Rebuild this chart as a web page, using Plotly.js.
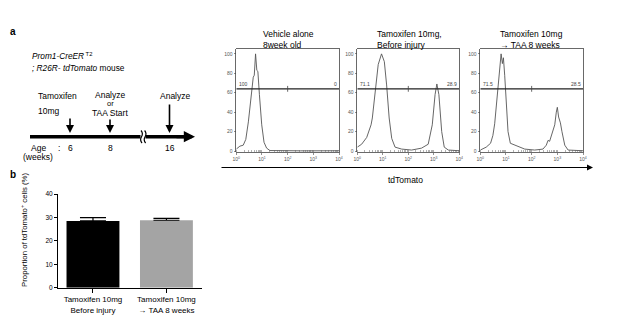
<!DOCTYPE html>
<html><head><meta charset="utf-8">
<script src="https://cdn.plot.ly/plotly-3.0.1.min.js"></script>
<style>html,body{margin:0;padding:0;background:#fff}#chart{width:617px;height:318px}</style>
</head><body><div id="chart"></div>
<script>
// ---- histogram data (x = log10 tdTomato intensity, y = % of max) ----
const hist1Log = [0, 0.14, 0.27, 0.37, 0.47, 0.57, 0.66, 0.70, 0.75, 0.80, 0.84, 0.90, 0.99, 1.08, 1.18, 1.31, 1.6, 2.0, 2.5, 3.0, 3.5, 4.0];
const hist1Cnt = [2, 5, 6, 12, 30, 51, 76, 78, 100, 83, 82, 58, 27, 9, 3, 0.5, 0.3, 0.2, 0.2, 0.2, 0.2, 0.3];
const hist2Log = [0, 0.17, 0.37, 0.54, 0.59, 0.69, 0.82, 0.95, 1.06, 1.15, 1.25, 1.35, 1.48, 1.74, 2.13, 2.52, 2.78, 2.94, 3.05, 3.12, 3.20, 3.31, 3.41, 3.57, 4.0];
const hist2Cnt = [4, 7, 14, 27, 34, 58, 89, 100, 92, 68, 34, 13, 4, 2, 1, 3, 7, 27, 58, 69, 58, 20, 4, 1, 0.3];
const hist3Log = [0, 0.23, 0.40, 0.49, 0.56, 0.66, 0.75, 0.81, 0.86, 0.90, 0.95, 1.01, 1.08, 1.17, 1.34, 1.53, 1.73, 2.12, 2.44, 2.57, 2.64, 2.70, 2.77, 2.83, 2.90, 2.96, 3.00, 3.05, 3.12, 3.18, 3.29, 3.42, 4.0];
const hist3Cnt = [1, 4, 8, 16, 28, 58, 89, 100, 90, 96, 78, 47, 20, 8, 6, 4, 2, 1, 2, 6, 11, 10, 16, 19, 27, 40, 45, 35, 29, 20, 6, 1, 0.3];
const histTitles = ['Vehicle alone<br>8week old', 'Tamoxifen 10mg,<br>Before injury', 'Tamoxifen 10mg<br>→ TAA 8 weeks'];
const gateLeft = ['100', '71.1', '71.5'];
const gateRight = ['0', '28.9', '28.5'];
const gateLevel = 64;
const gateSplit = 100;
const histYTicks = [0, 20, 40, 60, 80, 100];
const histXTicks = [1, 10, 100, 1000, 10000];
const histXLabels = ['10<sup>0</sup>', '10<sup>1</sup>', '10<sup>2</sup>', '10<sup>3</sup>', '10<sup>4</sup>'];

// ---- bar chart data ----
const barCats = ['Tamoxifen 10mg<br>Before injury', 'Tamoxifen 10mg<br>→ TAA 8 weeks'];
const barMeans = [28.5, 28.8];
const barErrUp = [1.4, 0.8];
const barColors = ['#000000', '#a4a4a4'];
const barYTicks = [0, 10, 20, 30, 40];

// ---- timeline labels ----
const ageWeeks = ['6', '8', '16'];

const W = 617, H = 318;
const X = p => p / W, Y = p => 1 - p / H;
const FONT = 'Liberation Sans, Arial, Helvetica, sans-serif';
const lineCol = '#444';

const traces = [];
const hists = [[hist1Log, hist1Cnt], [hist2Log, hist2Cnt], [hist3Log, hist3Cnt]];
const sfx = ['', '2', '3'];
hists.forEach((h, i) => {
  const xa = 'x' + sfx[i], ya = 'y' + sfx[i];
  traces.push({x: h[0].map(v => Math.pow(10, v)), y: h[1], xaxis: xa, yaxis: ya, type: 'scatter', mode: 'lines',
    line: {color: '#555', width: 0.9}, hoverinfo: 'skip', showlegend: false});
  traces.push({x: [histXTicks[0], histXTicks[histXTicks.length - 1]], y: [gateLevel, gateLevel], xaxis: xa, yaxis: ya,
    type: 'scatter', mode: 'lines', line: {color: '#222', width: 1.2}, showlegend: false, hoverinfo: 'skip'});
  traces.push({x: [gateSplit, gateSplit], y: [gateLevel - 3, gateLevel + 3], xaxis: xa, yaxis: ya,
    type: 'scatter', mode: 'lines', line: {color: '#444', width: 0.8}, showlegend: false, hoverinfo: 'skip'});
});
traces.push({type: 'bar', x: [0, 1], y: barMeans, xaxis: 'x4', yaxis: 'y4', width: 0.72,
  marker: {color: barColors, line: {width: 0}},
  error_y: {type: 'data', symmetric: false, array: barErrUp, arrayminus: [0, 0], color: '#000', thickness: 1.2, width: 13},
  showlegend: false, hoverinfo: 'skip'});

const histDomX = [[236.3, 339], [357.3, 459.3], [480.3, 583]];
const histDomY = [Y(152), Y(49)];
const layout = {
  width: W, height: H, margin: {l: 0, r: 0, t: 0, b: 0}, paper_bgcolor: '#fff', plot_bgcolor: 'rgba(0,0,0,0)',
  font: {family: FONT, color: '#000'}, showlegend: false,
  annotations: [], shapes: []
};
histDomX.forEach((d, i) => {
  layout['xaxis' + sfx[i]] = {domain: [X(d[0]), X(d[1])], anchor: 'y' + sfx[i], type: 'log', range: [0, 4],
    tickmode: 'array', tickvals: histXTicks, ticktext: histXLabels, ticks: 'outside', ticklen: 2, tickwidth: 0.6, tickcolor: lineCol,
    minor: {ticks: 'inside', ticklen: 2, dtick: 'D1', tickcolor: '#666', tickwidth: 0.5},
    tickfont: {size: 5, color: '#555', family: FONT}, showline: true, mirror: true, linecolor: lineCol, linewidth: 0.8,
    showgrid: false, zeroline: false, fixedrange: true};
  layout['yaxis' + sfx[i]] = {domain: histDomY, anchor: 'x' + sfx[i], range: [-1, 105],
    tickmode: 'array', tickvals: histYTicks, ticks: 'outside', ticklen: 2, tickwidth: 0.6, tickcolor: lineCol,
    tickfont: {size: 5, color: '#555', family: FONT}, showline: true, mirror: true, linecolor: lineCol, linewidth: 0.8,
    showgrid: false, zeroline: false, fixedrange: true};
  layout.annotations.push({xref: 'x' + sfx[i], yref: 'y' + sfx[i], x: 0.04, y: gateLevel, text: gateLeft[i],
    xanchor: 'left', yanchor: 'bottom', showarrow: false, font: {size: 5, color: '#444'}, yshift: 0});
  layout.annotations.push({xref: 'x' + sfx[i], yref: 'y' + sfx[i], x: 4, y: gateLevel, text: gateRight[i],
    xanchor: 'right', yanchor: 'bottom', showarrow: false, font: {size: 5, color: '#444'}});
});
const titleX = [261, 375, 498];
histTitles.forEach((t, i) => {
  layout.annotations.push({xref: 'paper', yref: 'paper', x: X(titleX[i]), y: Y(27), text: t, xanchor: 'left', yanchor: 'top',
    align: 'left', showarrow: false, font: {size: 8.5}});
});

layout.xaxis4 = {domain: [X(58), X(201.7)], anchor: 'y4', range: [-0.476, 1.48], tickmode: 'array', tickvals: [0, 1], ticktext: barCats,
  ticks: 'outside', ticklen: 4, tickwidth: 1, tickcolor: '#000', showline: true, linecolor: '#000', linewidth: 1,
  tickfont: {size: 8, family: FONT}, showgrid: false, zeroline: false, fixedrange: true};
layout.yaxis4 = {domain: [Y(287.7), Y(194)], anchor: 'x4', range: [0, 40], tickmode: 'array', tickvals: barYTicks,
  ticks: 'outside', ticklen: 3, tickwidth: 1, tickcolor: '#000', showline: true, linecolor: '#000', linewidth: 1,
  tickfont: {size: 6.5, family: FONT}, showgrid: false, zeroline: false, fixedrange: true};

const A = layout.annotations, S = layout.shapes;
const txt = (x, y, t, o) => A.push(Object.assign({xref: 'paper', yref: 'paper', x: X(x), y: Y(y), text: t, showarrow: false,
  xanchor: 'center', yanchor: 'middle', font: {size: 8.5}}, o || {}));
txt(13, 32, '<b>a</b>', {font: {size: 10}});
txt(13, 174, '<b>b</b>', {font: {size: 10}});
txt(30, 56, '<i>Prom1-CreER</i><sup> T2</sup>', {xanchor: 'left', font: {size: 8.3}});
txt(30, 68, '<i>; R26R- tdTomato</i> mouse', {xanchor: 'left', font: {size: 8.3}});
txt(57.5, 96, 'Tamoxifen');
txt(48.5, 111, '10mg');
txt(110, 95, 'Analyze');
txt(110, 104, 'or', {font: {size: 7.5}});
txt(110, 113, 'TAA Start');
txt(175, 96, 'Analyze');
txt(38.5, 148, 'Age');
txt(37.5, 157, '(weeks)');
txt(58.5, 148, ':');
txt(70, 148, ageWeeks[0]);
txt(110, 148, ageWeeks[1]);
txt(170, 148, ageWeeks[2]);
txt(405, 180, 'tdTomato');
txt(24, 230, 'Proportion of tdTomato<sup>+</sup> cells (%)', {textangle: -90, font: {size: 7.8}});

// arrows
const arrow = (x, y, ax, ay, w, s) => A.push({xref: 'paper', yref: 'paper', x: X(x), y: Y(y), ax: ax, ay: ay, text: '',
  showarrow: true, arrowhead: 2, arrowwidth: w, arrowsize: s, arrowcolor: '#000'});
arrow(70, 133, 0, -16, 1.6, 1);
arrow(110, 133, 0, -15, 1.6, 1);
arrow(169.5, 133, 0, -30, 1.6, 1);
arrow(195, 136.7, -20, 0, 3.2, 0.7);
arrow(593, 167.5, -373, 0, 1.2, 1);
S.push({type: 'line', xref: 'paper', yref: 'paper', x0: X(30), x1: X(140.5), y0: Y(136.7), y1: Y(136.7), line: {color: '#000', width: 3.4}});
S.push({type: 'line', xref: 'paper', yref: 'paper', x0: X(145.5), x1: X(185), y0: Y(136.7), y1: Y(136.7), line: {color: '#000', width: 3.4}});
const wave = dx => 'M ' + X(141 + dx) + ',' + Y(130.5) + ' Q ' + X(143.5 + dx) + ',' + Y(133.5) + ' ' + X(141.5 + dx) + ',' + Y(136.7) +
  ' Q ' + X(139.5 + dx) + ',' + Y(140) + ' ' + X(142 + dx) + ',' + Y(143);
S.push({type: 'path', xref: 'paper', yref: 'paper', path: wave(0), line: {color: '#000', width: 1.2}});
S.push({type: 'path', xref: 'paper', yref: 'paper', path: wave(3.6), line: {color: '#000', width: 1.2}});

Plotly.newPlot('chart', traces, layout, {staticPlot: true, displayModeBar: false});
</script></body></html>
